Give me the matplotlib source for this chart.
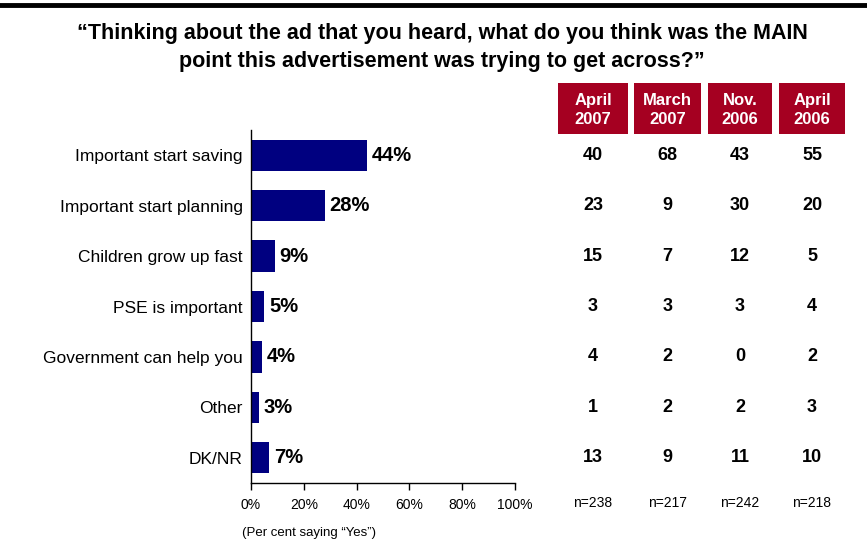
import matplotlib.pyplot as plt
from matplotlib.patches import Rectangle
from matplotlib.lines import Line2D

plt.rcParams['font.family'] = ['Liberation Sans', 'DejaVu Sans']

categories = ['Important start saving', 'Important start planning', 'Children grow up fast',
              'PSE is important', 'Government can help you', 'Other', 'DK/NR']
april_2007 = [44, 28, 9, 5, 4, 3, 7]

waves = ['April\n2007', 'March\n2007', 'Nov.\n2006', 'April\n2006']
wave_values = [
    [40, 23, 15, 3, 4, 1, 13],
    [68, 9, 7, 3, 2, 2, 9],
    [43, 30, 12, 3, 0, 2, 11],
    [55, 20, 5, 4, 2, 3, 10],
]
sample_sizes = ['n=238', 'n=217', 'n=242', 'n=218']

W, H = 867, 542
fig = plt.figure(figsize=(W / 100, H / 100), dpi=100)

def fx(px):
    return px / W

def fy(py):
    return 1 - py / H

# bar chart area
ax = fig.add_axes([fx(251), fy(483), fx(515) - fx(251), fy(130) - fy(483)])
ypos = list(range(len(categories)))
ax.barh(ypos, april_2007, height=0.62, color='#000080')
for y, v in zip(ypos, april_2007):
    ax.text(v + 1.8, y, f'{v}%', va='center', ha='left', fontsize=14.5,
            fontweight='bold')
ax.set_xlim(0, 100)
ax.set_ylim(len(categories) - 0.5, -0.5)
ax.set_yticks(ypos)
ax.set_yticklabels(categories, fontsize=12.5)
ax.tick_params(axis='y', length=0, pad=6)
ax.set_xticks(range(0, 101, 20))
ax.set_xticklabels([f'{t}%' for t in range(0, 101, 20)], fontsize=10)
ax.tick_params(axis='x', direction='out', length=5, width=1, pad=6)
for s in ['top', 'right']:
    ax.spines[s].set_visible(False)
ax.spines['left'].set_linewidth(1)
ax.spines['bottom'].set_linewidth(1)

fig.text(fx(242), fy(533), '(Per cent saying \u201cYes\u201d)', fontsize=9.5,
         va='center', ha='left')

# top rule
fig.add_artist(Line2D([0, 1], [fy(5), fy(5)], color='black', linewidth=3.5))

# title
fig.text(fx(442), fy(33), '\u201cThinking about the ad that you heard, what do you think was the MAIN',
         ha='center', va='center', fontsize=15.5, fontweight='bold')
fig.text(fx(442), fy(61), 'point this advertisement was trying to get across?\u201d',
         ha='center', va='center', fontsize=15.5, fontweight='bold')

# comparison table
boxes = [(558, 628), (634, 701), (708, 772), (779, 845)]
for (x0, x1), head, vals, n in zip(boxes, waves, wave_values, sample_sizes):
    fig.add_artist(Rectangle((fx(x0), fy(134)), fx(x1) - fx(x0), fy(83) - fy(134),
                             transform=fig.transFigure, facecolor='#A50021',
                             edgecolor='none'))
    cx = fx((x0 + x1) / 2)
    fig.text(cx, fy(110), head, ha='center', va='center', color='white',
             fontsize=12, fontweight='bold', linespacing=1.3)
    for y, v in zip(ypos, vals):
        ty = ax.transData.transform((0, y))[1] / fig.bbox.height
        fig.text(cx, ty, str(v), ha='center', va='center', fontsize=13,
                 fontweight='bold')
    fig.text(cx, fy(503), n, ha='center', va='center', fontsize=10)

fig.savefig('out.png', dpi=100)
